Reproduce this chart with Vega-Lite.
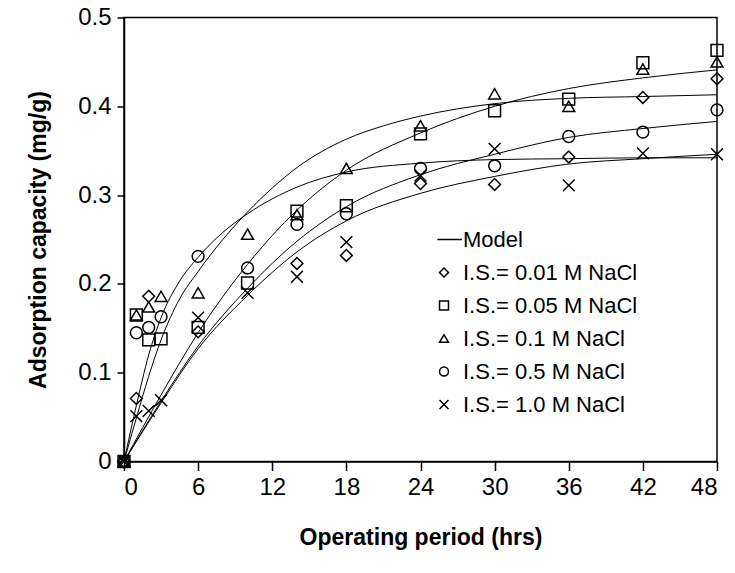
{
  "$schema": "https://vega.github.io/schema/vega-lite/v6.json",
  "width": 593,
  "height": 444,
  "autosize": {"type": "none"},
  "padding": {"left": 124, "top": 17.5, "right": 18, "bottom": 111.5},
  "background": "white",
  "datasets": {
    "obs": [
      {"t": 0, "q": 0, "series": "I.S.= 0.01 M NaCl"},
      {"t": 1, "q": 0.071, "series": "I.S.= 0.01 M NaCl"},
      {"t": 2, "q": 0.186, "series": "I.S.= 0.01 M NaCl"},
      {"t": 6, "q": 0.146, "series": "I.S.= 0.01 M NaCl"},
      {"t": 14, "q": 0.223, "series": "I.S.= 0.01 M NaCl"},
      {"t": 18, "q": 0.232, "series": "I.S.= 0.01 M NaCl"},
      {"t": 24, "q": 0.313, "series": "I.S.= 0.01 M NaCl"},
      {"t": 30, "q": 0.312, "series": "I.S.= 0.01 M NaCl"},
      {"t": 36, "q": 0.343, "series": "I.S.= 0.01 M NaCl"},
      {"t": 42, "q": 0.41, "series": "I.S.= 0.01 M NaCl"},
      {"t": 48, "q": 0.431, "series": "I.S.= 0.01 M NaCl"},
      {"t": 0, "q": 0, "series": "I.S.= 0.05 M NaCl"},
      {"t": 1, "q": 0.165, "series": "I.S.= 0.05 M NaCl"},
      {"t": 2, "q": 0.137, "series": "I.S.= 0.05 M NaCl"},
      {"t": 3, "q": 0.138, "series": "I.S.= 0.05 M NaCl"},
      {"t": 6, "q": 0.151, "series": "I.S.= 0.05 M NaCl"},
      {"t": 10, "q": 0.201, "series": "I.S.= 0.05 M NaCl"},
      {"t": 14, "q": 0.282, "series": "I.S.= 0.05 M NaCl"},
      {"t": 18, "q": 0.288, "series": "I.S.= 0.05 M NaCl"},
      {"t": 24, "q": 0.369, "series": "I.S.= 0.05 M NaCl"},
      {"t": 30, "q": 0.395, "series": "I.S.= 0.05 M NaCl"},
      {"t": 36, "q": 0.408, "series": "I.S.= 0.05 M NaCl"},
      {"t": 42, "q": 0.449, "series": "I.S.= 0.05 M NaCl"},
      {"t": 48, "q": 0.463, "series": "I.S.= 0.05 M NaCl"},
      {"t": 0, "q": 0, "series": "I.S.= 0.1 M NaCl"},
      {"t": 1, "q": 0.165, "series": "I.S.= 0.1 M NaCl"},
      {"t": 2, "q": 0.174, "series": "I.S.= 0.1 M NaCl"},
      {"t": 3, "q": 0.186, "series": "I.S.= 0.1 M NaCl"},
      {"t": 6, "q": 0.19, "series": "I.S.= 0.1 M NaCl"},
      {"t": 10, "q": 0.256, "series": "I.S.= 0.1 M NaCl"},
      {"t": 14, "q": 0.278, "series": "I.S.= 0.1 M NaCl"},
      {"t": 18, "q": 0.33, "series": "I.S.= 0.1 M NaCl"},
      {"t": 24, "q": 0.378, "series": "I.S.= 0.1 M NaCl"},
      {"t": 30, "q": 0.414, "series": "I.S.= 0.1 M NaCl"},
      {"t": 36, "q": 0.4, "series": "I.S.= 0.1 M NaCl"},
      {"t": 42, "q": 0.442, "series": "I.S.= 0.1 M NaCl"},
      {"t": 48, "q": 0.45, "series": "I.S.= 0.1 M NaCl"},
      {"t": 0, "q": 0, "series": "I.S.= 0.5 M NaCl"},
      {"t": 1, "q": 0.145, "series": "I.S.= 0.5 M NaCl"},
      {"t": 2, "q": 0.151, "series": "I.S.= 0.5 M NaCl"},
      {"t": 3, "q": 0.163, "series": "I.S.= 0.5 M NaCl"},
      {"t": 6, "q": 0.231, "series": "I.S.= 0.5 M NaCl"},
      {"t": 10, "q": 0.218, "series": "I.S.= 0.5 M NaCl"},
      {"t": 14, "q": 0.267, "series": "I.S.= 0.5 M NaCl"},
      {"t": 18, "q": 0.279, "series": "I.S.= 0.5 M NaCl"},
      {"t": 24, "q": 0.33, "series": "I.S.= 0.5 M NaCl"},
      {"t": 30, "q": 0.333, "series": "I.S.= 0.5 M NaCl"},
      {"t": 36, "q": 0.366, "series": "I.S.= 0.5 M NaCl"},
      {"t": 42, "q": 0.371, "series": "I.S.= 0.5 M NaCl"},
      {"t": 48, "q": 0.396, "series": "I.S.= 0.5 M NaCl"},
      {"t": 0, "q": 0, "series": "I.S.= 1.0 M NaCl"},
      {"t": 1, "q": 0.051, "series": "I.S.= 1.0 M NaCl"},
      {"t": 2, "q": 0.057, "series": "I.S.= 1.0 M NaCl"},
      {"t": 3, "q": 0.069, "series": "I.S.= 1.0 M NaCl"},
      {"t": 6, "q": 0.162, "series": "I.S.= 1.0 M NaCl"},
      {"t": 10, "q": 0.19, "series": "I.S.= 1.0 M NaCl"},
      {"t": 14, "q": 0.208, "series": "I.S.= 1.0 M NaCl"},
      {"t": 18, "q": 0.247, "series": "I.S.= 1.0 M NaCl"},
      {"t": 24, "q": 0.322, "series": "I.S.= 1.0 M NaCl"},
      {"t": 30, "q": 0.352, "series": "I.S.= 1.0 M NaCl"},
      {"t": 36, "q": 0.311, "series": "I.S.= 1.0 M NaCl"},
      {"t": 42, "q": 0.347, "series": "I.S.= 1.0 M NaCl"},
      {"t": 48, "q": 0.346, "series": "I.S.= 1.0 M NaCl"}
    ],
    "model": [
      {"t": 0, "q": 0, "curve": "A"},
      {"t": 1, "q": 0.063, "curve": "A"},
      {"t": 2, "q": 0.12, "curve": "A"},
      {"t": 3, "q": 0.162, "curve": "A"},
      {"t": 4.5, "q": 0.203, "curve": "A"},
      {"t": 6, "q": 0.23, "curve": "A"},
      {"t": 8, "q": 0.258, "curve": "A"},
      {"t": 10, "q": 0.279, "curve": "A"},
      {"t": 14, "q": 0.309, "curve": "A"},
      {"t": 18, "q": 0.326, "curve": "A"},
      {"t": 24, "q": 0.336, "curve": "A"},
      {"t": 30, "q": 0.34, "curve": "A"},
      {"t": 36, "q": 0.341, "curve": "A"},
      {"t": 42, "q": 0.342, "curve": "A"},
      {"t": 48, "q": 0.342, "curve": "A"},
      {"t": 0, "q": 0, "curve": "B"},
      {"t": 1, "q": 0.049, "curve": "B"},
      {"t": 2, "q": 0.096, "curve": "B"},
      {"t": 3, "q": 0.137, "curve": "B"},
      {"t": 4.5, "q": 0.183, "curve": "B"},
      {"t": 6, "q": 0.214, "curve": "B"},
      {"t": 8, "q": 0.25, "curve": "B"},
      {"t": 10, "q": 0.281, "curve": "B"},
      {"t": 12, "q": 0.308, "curve": "B"},
      {"t": 14, "q": 0.331, "curve": "B"},
      {"t": 16, "q": 0.349, "curve": "B"},
      {"t": 18, "q": 0.363, "curve": "B"},
      {"t": 21, "q": 0.378, "curve": "B"},
      {"t": 24, "q": 0.389, "curve": "B"},
      {"t": 30, "q": 0.403, "curve": "B"},
      {"t": 36, "q": 0.409, "curve": "B"},
      {"t": 42, "q": 0.411, "curve": "B"},
      {"t": 48, "q": 0.413, "curve": "B"},
      {"t": 0, "q": 0, "curve": "C"},
      {"t": 3, "q": 0.075, "curve": "C"},
      {"t": 6, "q": 0.145, "curve": "C"},
      {"t": 10, "q": 0.222, "curve": "C"},
      {"t": 14, "q": 0.283, "curve": "C"},
      {"t": 18, "q": 0.328, "curve": "C"},
      {"t": 24, "q": 0.37, "curve": "C"},
      {"t": 30, "q": 0.4, "curve": "C"},
      {"t": 36, "q": 0.42, "curve": "C"},
      {"t": 42, "q": 0.432, "curve": "C"},
      {"t": 48, "q": 0.441, "curve": "C"},
      {"t": 0, "q": 0, "curve": "D"},
      {"t": 3, "q": 0.068, "curve": "D"},
      {"t": 6, "q": 0.13, "curve": "D"},
      {"t": 10, "q": 0.195, "curve": "D"},
      {"t": 14, "q": 0.248, "curve": "D"},
      {"t": 18, "q": 0.287, "curve": "D"},
      {"t": 24, "q": 0.323, "curve": "D"},
      {"t": 30, "q": 0.346, "curve": "D"},
      {"t": 36, "q": 0.365, "curve": "D"},
      {"t": 42, "q": 0.375, "curve": "D"},
      {"t": 48, "q": 0.383, "curve": "D"},
      {"t": 0, "q": 0, "curve": "E"},
      {"t": 3, "q": 0.066, "curve": "E"},
      {"t": 6, "q": 0.127, "curve": "E"},
      {"t": 10, "q": 0.187, "curve": "E"},
      {"t": 14, "q": 0.236, "curve": "E"},
      {"t": 18, "q": 0.271, "curve": "E"},
      {"t": 24, "q": 0.302, "curve": "E"},
      {"t": 30, "q": 0.321, "curve": "E"},
      {"t": 36, "q": 0.335, "curve": "E"},
      {"t": 42, "q": 0.341, "curve": "E"},
      {"t": 48, "q": 0.346, "curve": "E"}
    ]
  },
  "encoding": {
    "x": {
      "field": "t",
      "type": "quantitative",
      "scale": {"domain": [0, 48], "nice": false},
      "axis": {
        "title": "Operating period (hrs)",
        "values": [0, 6, 12, 18, 24, 30, 36, 42, 48],
        "grid": false,
        "tickSize": 9,
        "labelPadding": 5,
        "titleY": 76,
        "titleBaseline": "middle"
      }
    },
    "y": {
      "field": "q",
      "type": "quantitative",
      "scale": {"domain": [0, 0.5], "nice": false},
      "axis": {
        "title": "Adsorption capacity (mg/g)",
        "values": [0, 0.1, 0.2, 0.3, 0.4, 0.5],
        "format": "~g",
        "grid": false,
        "tickSize": 7,
        "labelPadding": 6,
        "titleX": -86,
        "titleBaseline": "middle"
      }
    }
  },
  "layer": [
    {
      "data": {"name": "model"},
      "mark": {"type": "line", "color": "black", "strokeWidth": 1, "interpolate": "monotone"},
      "encoding": {"detail": {"field": "curve", "type": "nominal"}}
    },
    {
      "data": {"name": "obs"},
      "mark": {"type": "point", "filled": false, "stroke": "black", "strokeWidth": 1.5, "size": 140, "opacity": 1},
      "encoding": {
        "shape": {
          "field": "series",
          "type": "nominal",
          "scale": {
            "domain": ["Model", "I.S.= 0.01 M NaCl", "I.S.= 0.05 M NaCl", "I.S.= 0.1 M NaCl", "I.S.= 0.5 M NaCl", "I.S.= 1.0 M NaCl"],
            "range": ["M-1.5,0L4,0", "diamond", "square", "triangle-up", "circle", "M-1,-1L1,1M1,-1L-1,1"]
          },
          "legend": {
            "title": null,
            "orient": "none",
            "legendX": 309,
            "legendY": 211,
            "padding": 0,
            "symbolSize": 80,
            "symbolStrokeWidth": 1.5,
            "symbolStrokeColor": "black",
            "symbolFillColor": "transparent",
            "labelFontSize": 22,
            "labelFont": "Liberation Sans",
            "labelColor": "black",
            "labelOffset": 8,
            "rowPadding": 11,
            "labelLimit": 400
          }
        }
      }
    }
  ],
  "config": {
    "font": "Liberation Sans",
    "view": {"stroke": "black", "strokeWidth": 1.5},
    "axis": {
      "domainColor": "black",
      "domainWidth": 1.5,
      "tickColor": "black",
      "tickWidth": 1.5,
      "labelFont": "Liberation Sans",
      "labelFontSize": 24,
      "labelColor": "black",
      "titleFont": "Liberation Sans",
      "titleFontSize": 23,
      "titleFontWeight": "bold",
      "titleColor": "black"
    }
  }
}
